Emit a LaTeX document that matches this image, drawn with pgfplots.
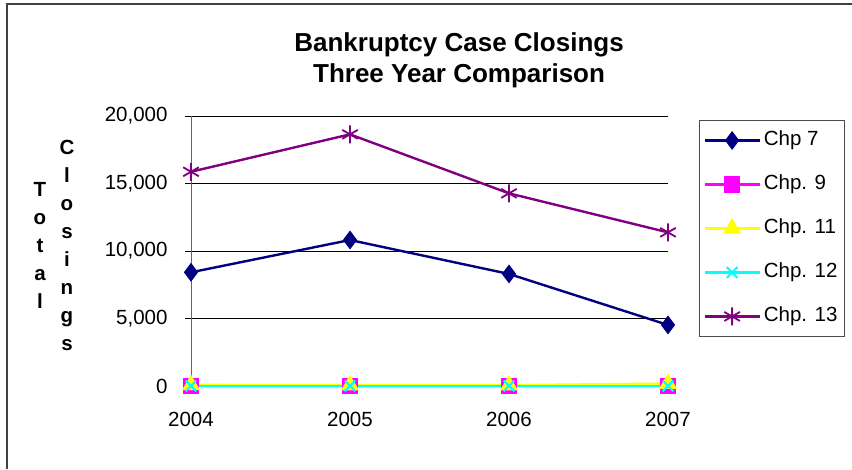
\documentclass[border=0pt]{standalone}
\usepackage{fontspec}
\setmainfont{Liberation Sans}
\usepackage{pgfplots}
\pgfplotsset{compat=1.18}
\definecolor{cseven}{RGB}{0,0,128}
\definecolor{cnine}{RGB}{255,0,255}
\definecolor{celeven}{RGB}{255,255,0}
\definecolor{ctwelve}{RGB}{0,255,255}
\definecolor{cthirteen}{RGB}{128,0,128}
\begin{document}
\begin{tikzpicture}[x=1pt,y=1pt]
\useasboundingbox (0,0) rectangle (852,469);
\draw[line width=1.6pt, black!75] (7,0) -- (7,465) -- (852,465);
% stacked y label
\node[font=\bfseries\fontsize{20.5}{28}\selectfont, align=center] at (40,224) {T\\o\\t\\a\\l};
\node[font=\bfseries\fontsize{20.5}{28}\selectfont, align=center] at (67,224) {C\\l\\o\\s\\i\\n\\g\\s};
\begin{axis}[
  at={(191pt,83pt)}, anchor=south west,
  scale only axis, width=477pt, height=270pt,
  xmin=2004, xmax=2007, ymin=0, ymax=20000,
  xtick={2004,2005,2006,2007},
  ytick={0,5000,10000,15000,20000},
  axis y line=left, axis x line=bottom,
  axis line style={-},
  y axis line style={draw=black!60, line width=1pt},
  x axis line style={draw=black, line width=0.8pt},
  ymajorgrids, major grid style={black, line width=0.8pt},
  tick align=outside, major tick length=6pt,
  ytick style={black, line width=0.8pt},
  xtick style={draw=none},
  ticklabel style={font=\fontsize{20.5}{24}\selectfont},
  /pgf/number format/assume math mode=true,
  y tick label style={/pgf/number format/1000 sep={,}, xshift=-14pt},
  x tick label style={/pgf/number format/1000 sep={}, yshift=-17pt},
  scaled y ticks=false,
  clip=false,
  title={Bankruptcy Case Closings\\Three Year Comparison},
  title style={font=\bfseries\fontsize{26}{31}\selectfont, align=center,
    at={(axis description cs:0.562,1.185)}, anchor=center},
  legend style={at={(axis description cs:1.065,0.985)}, anchor=north west,
    draw=black!70, line width=0.8pt,
    font=\fontsize{20.5}{24}\selectfont,
    inner xsep=4pt, inner ysep=8pt, row sep=20pt,
    nodes={inner xsep=3pt, inner ysep=2pt, text height=15pt, text depth=5pt}},
  legend cell align=left,
  legend image code/.code={\draw[mark repeat=2,mark phase=2,#1] plot coordinates {(0pt,0pt) (27.5pt,0pt) (55pt,0pt)};},
]
\addplot[cseven, line width=2.4pt, mark=diamond*, mark size=7.5pt, mark options={solid}]
  coordinates {(2004,8420) (2005,10815) (2006,8300) (2007,4520)};
\addplot[cnine, line width=2.4pt, mark=square*, mark size=7pt]
  coordinates {(2004,10) (2005,10) (2006,5) (2007,5)};
\addplot[celeven, line width=2.4pt, mark=triangle*, mark size=8pt]
  coordinates {(2004,80) (2005,70) (2006,60) (2007,180)};
\addplot[ctwelve, line width=2.4pt, mark=x, mark size=7.5pt, mark options={line width=2.2pt}]
  coordinates {(2004,5) (2005,5) (2006,5) (2007,5)};
\addplot[cthirteen, line width=2.4pt, mark=asterisk, mark size=9pt, mark options={line width=1.8pt}]
  coordinates {(2004,15870) (2005,18640) (2006,14270) (2007,11380)};
\legend{Chp 7,Chp. 9,Chp. 11,Chp. 12,Chp. 13}
\end{axis}
\end{tikzpicture}
\end{document}
